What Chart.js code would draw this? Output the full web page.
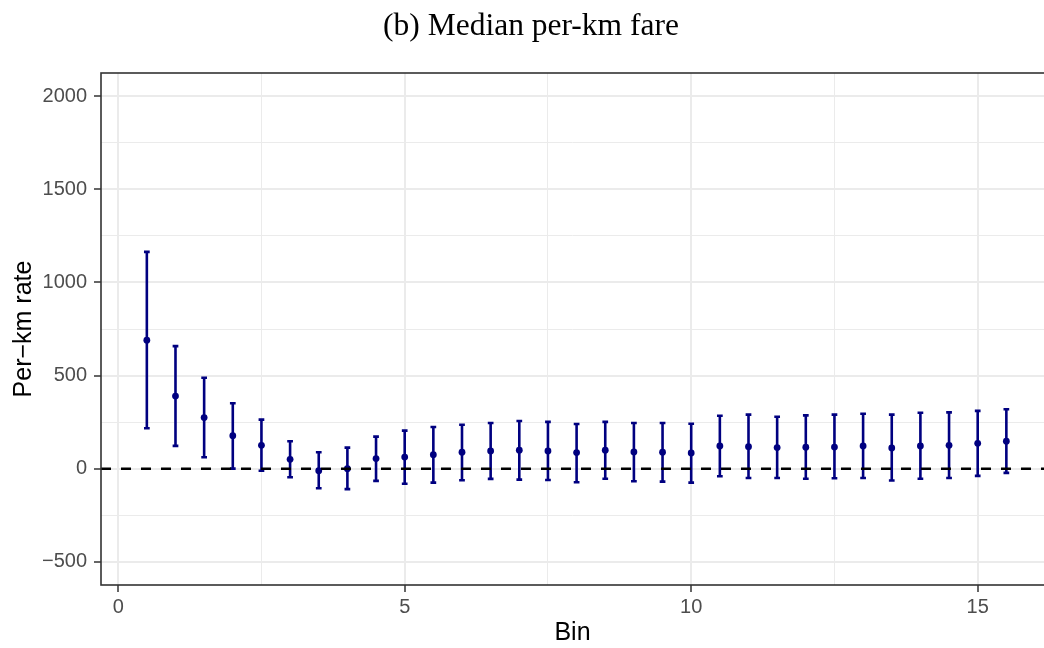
<!DOCTYPE html>
<html>
<head>
<meta charset="utf-8">
<script src="https://cdn.jsdelivr.net/npm/chart.js@4"></script>
<style>
  html, body { margin: 0; padding: 0; background: #fff; overflow: hidden; }
  /* the original panel runs past the right edge, so the canvas is a bit wider and cropped */
  #wrap { width: 1044px; height: 648px; overflow: hidden; }
</style>
</head>
<body>
<div id="wrap"><canvas id="myChart" width="1048" height="648"></canvas></div>
<script>
// values
const bins = [0.5, 1, 1.5, 2, 2.5, 3, 3.5, 4, 4.5, 5, 5.5, 6, 6.5, 7, 7.5, 8,
  8.5, 9, 9.5, 10, 10.5, 11, 11.5, 12, 12.5, 13, 13.5, 14, 14.5, 15, 15.5];
const medians = [690, 390, 274, 177, 125, 50, -11, 0, 54, 62, 75, 88, 95, 99, 95, 86,
  99, 90, 88, 84, 122, 118, 113, 115, 116, 122, 111, 122, 125, 136, 147];
const upper = [1164, 658, 488, 351, 263, 147, 88, 113, 172, 204, 224, 236, 245, 256, 251, 240,
  251, 245, 245, 241, 284, 290, 279, 286, 290, 295, 290, 300, 302, 310, 319];
const lower = [217, 122, 61, 0, -11, -46, -105, -110, -66, -81, -75, -62, -55, -59, -61, -73,
  -54, -68, -70, -75, -41, -50, -50, -54, -52, -50, -64, -54, -50, -39, -23];

const xMajor = [0, 5, 10, 15];
const xMinor = [2.5, 7.5, 12.5];
const yMajor = [-500, 0, 500, 1000, 1500, 2000];
const yMinor = [-250, 250, 750, 1250, 1750];

const NAVY = "#000080";
const GRID = "#EBEBEB";
const DARK = "#333333";

Chart.defaults.font.family = '"Liberation Sans", Arial, sans-serif';

const fmt = (v) => (v < 0 ? "\u2212" + Math.abs(v) : String(v));

// error bars under the points
const errorBars = {
  id: "errorBars",
  beforeDatasetsDraw(chart) {
    const { ctx, scales: { x, y } } = chart;
    ctx.save();
    ctx.strokeStyle = NAVY;
    ctx.lineWidth = 2.6;
    bins.forEach((b, i) => {
      const px = x.getPixelForValue(b);
      const half = x.getPixelForValue(b + 0.05) - px;
      const yl = y.getPixelForValue(lower[i]);
      const yu = y.getPixelForValue(upper[i]);
      ctx.beginPath();
      ctx.moveTo(px, yl);
      ctx.lineTo(px, yu);
      ctx.moveTo(px - half, yl);
      ctx.lineTo(px + half, yl);
      ctx.moveTo(px - half, yu);
      ctx.lineTo(px + half, yu);
      ctx.stroke();
    });
    ctx.restore();
  },
};

// dashed zero line, panel border and title
const panelExtras = {
  id: "panelExtras",
  afterDatasetsDraw(chart) {
    const { ctx, chartArea: a, scales: { y } } = chart;
    const y0 = y.getPixelForValue(0);
    ctx.save();
    ctx.strokeStyle = "#000";
    ctx.lineWidth = 2.5;
    ctx.setLineDash([10, 10]);
    ctx.beginPath();
    ctx.moveTo(a.left, y0);
    ctx.lineTo(a.right, y0);
    ctx.stroke();
    ctx.restore();
  },
  afterDraw(chart) {
    const { ctx, chartArea: a } = chart;
    ctx.save();
    ctx.strokeStyle = DARK;
    ctx.lineWidth = 1.6;
    ctx.strokeRect(a.left, a.top, a.right - a.left + 10, a.bottom - a.top);
    ctx.fillStyle = "#000";
    ctx.font = '31.5px "Liberation Serif", "Times New Roman", serif';
    ctx.textAlign = "center";
    ctx.textBaseline = "alphabetic";
    ctx.fillText("(b) Median per-km fare", 531, 35);
    ctx.restore();
  },
};

function gridOpts(major) {
  return {
    color: GRID,
    lineWidth: (c) => (c.tick && major.includes(c.tick.value) ? 2 : 1),
    tickLength: 7,
    tickWidth: 1.5,
    tickColor: (c) => (c.tick && major.includes(c.tick.value) ? DARK : "rgba(0,0,0,0)"),
  };
}

const config = {
  type: "scatter",
  data: {
    datasets: [
      {
        label: "Median",
        data: bins.map((b, i) => ({ x: b, y: medians[i] })),
        pointRadius: 3.4,
        pointBackgroundColor: NAVY,
        pointBorderWidth: 0,
      },
    ],
  },
  options: {
    responsive: false,
    animation: false,
    devicePixelRatio: 1,
    layout: { padding: { top: 73, left: 0, right: 0, bottom: 0 } },
    plugins: { legend: { display: false }, tooltip: { enabled: false } },
    scales: {
      x: {
        type: "linear",
        min: -0.3,
        max: 16.157,
        afterBuildTicks: (s) => {
          s.ticks = xMajor.concat(xMinor).sort((a, b) => a - b).map((v) => ({ value: v }));
        },
        afterFit: (s) => { s.height = 63; },
        grid: gridOpts(xMajor),
        border: { display: false },
        ticks: {
          autoSkip: false,
          maxRotation: 0,
          padding: 3,
          color: "#4D4D4D",
          font: { size: 20 },
          callback: (v) => (xMajor.includes(v) ? fmt(v) : ""),
        },
        title: {
          display: true,
          text: "Bin",
          color: "#000",
          font: { size: 25 },
          padding: { top: 0, bottom: 0 },
        },
      },
      y: {
        type: "linear",
        min: -625,
        max: 2125,
        afterBuildTicks: (s) => {
          s.ticks = yMajor.concat(yMinor).sort((a, b) => a - b).map((v) => ({ value: v }));
        },
        afterFit: (s) => { s.width = 101; },
        grid: gridOpts(yMajor),
        border: { display: false },
        ticks: {
          autoSkip: false,
          padding: 7,
          color: "#4D4D4D",
          font: { size: 20 },
          callback: (v) => (yMajor.includes(v) ? fmt(v) : ""),
        },
        title: {
          display: true,
          text: "Per\u2212km rate",
          color: "#000",
          font: { size: 25 },
          padding: { top: 9, bottom: 0 },
        },
      },
    },
  },
  plugins: [errorBars, panelExtras],
};

document.addEventListener("DOMContentLoaded", function () {
  const ctx = document.getElementById("myChart").getContext("2d");
  new Chart(ctx, config);
});
</script>
</body>
</html>
